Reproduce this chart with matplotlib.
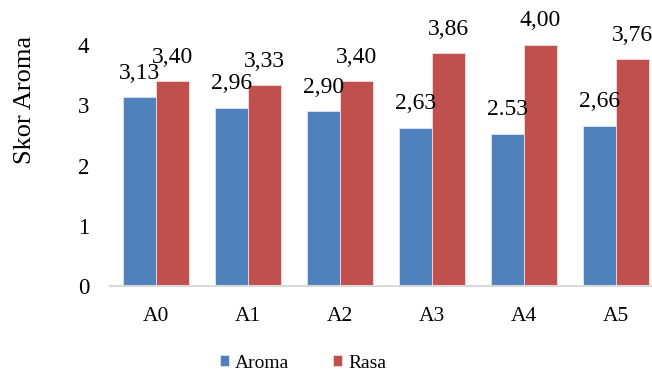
import matplotlib
matplotlib.use("Agg")
import matplotlib.pyplot as plt
import numpy as np

categories = ["A0", "A1", "A2", "A3", "A4", "A5"]
aroma = [3.13, 2.96, 2.90, 2.63, 2.53, 2.66]
rasa = [3.40, 3.33, 3.40, 3.86, 4.00, 3.76]
aroma_labels = ["3,13", "2,96", "2,90", "2,63", "2.53", "2,66"]
rasa_labels = ["3,40", "3,33", "3,40", "3,86", "4,00", "3,76"]
yticks = [0, 1, 2, 3, 4]

plt.rcParams["font.family"] = ["Liberation Serif", "DejaVu Serif"]

W, H = 652, 374
fig = plt.figure(figsize=(W / 100, H / 100), dpi=100)
left, right = 110 / W, 662 / W
y0_px, per_unit = 286, 60.25
ymax = 4.6
bottom = (H - y0_px) / H
top = (H - (y0_px - ymax * per_unit)) / H
ax = fig.add_axes([left, bottom, right - left, top - bottom])

x = np.arange(len(categories))
bw = 33 / 92
blue, red = "#4F81BD", "#C0504D"
b1 = ax.bar(x - bw / 2, aroma, bw, color=blue, edgecolor="#dfe6f0", linewidth=0.6, label="Aroma")
b2 = ax.bar(x + bw / 2, rasa, bw, color=red, edgecolor="#f0dcdc", linewidth=0.6, label="Rasa")

for xi, v, t in zip(x - bw / 2, aroma, aroma_labels):
    ax.annotate(t, (xi, v), xytext=(0, 24), textcoords="offset pixels",
                ha="center", va="center", fontsize=17, annotation_clip=False)
for xi, v, t in zip(x + bw / 2, rasa, rasa_labels):
    ax.annotate(t, (xi, v), xytext=(0, 24), textcoords="offset pixels",
                ha="center", va="center", fontsize=17, annotation_clip=False)

ax.set_xlim(-0.5, len(categories) - 0.5)
ax.set_ylim(0, ymax)
ax.set_yticks(yticks)
ax.set_yticklabels([str(v) for v in yticks], fontsize=16.5)
ax.set_xticks(x)
ax.set_xticklabels(categories, fontsize=15.5)
ax.tick_params(axis="y", length=0, pad=15)
ax.tick_params(axis="x", length=0, pad=15)
for s in ["top", "right", "left"]:
    ax.spines[s].set_visible(False)
ax.spines["bottom"].set_color("#D9D9D9")
ax.spines["bottom"].set_linewidth(1.5)
fig.text(25 / W, 1 - 100 / H, "Skor Aroma", rotation=90, fontsize=19, ha="center", va="center")

fig.legend(handles=[b1, b2], labels=["Aroma", "Rasa"], loc="center",
           bbox_to_anchor=(303 / W, 1 - 363 / H), ncol=2, frameon=False,
           fontsize=14, handlelength=0.45, handleheight=0.45,
           handletextpad=0.3, columnspacing=2.3)

fig.savefig("out.png", dpi=100)
